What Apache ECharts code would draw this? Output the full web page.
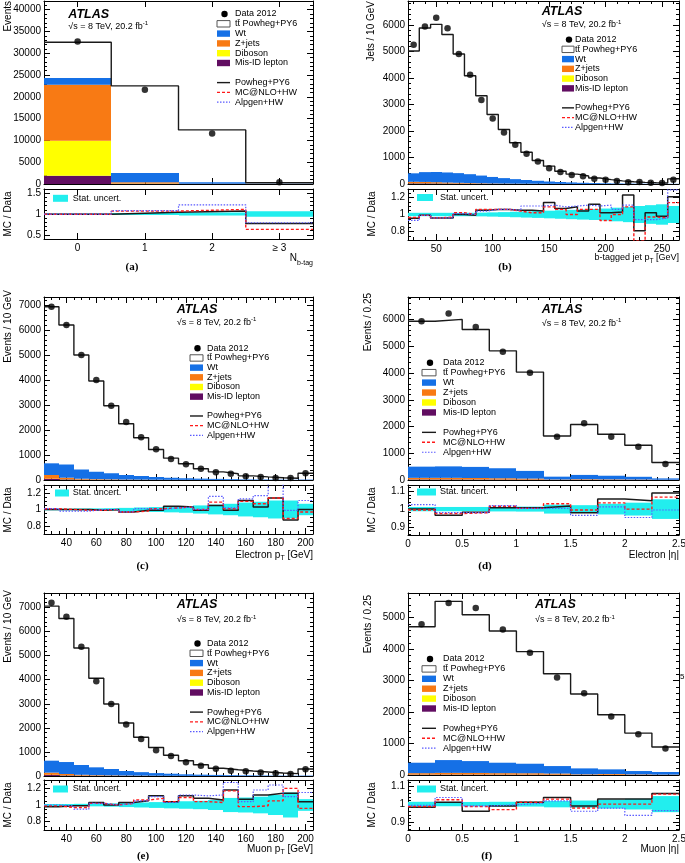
<!DOCTYPE html>
<html><head><meta charset="utf-8">
<script src="https://cdn.jsdelivr.net/npm/echarts@6.0.0/dist/echarts.min.js"></script>
<style>html,body{margin:0;padding:0;background:#fff;}#chart{width:685px;height:863px;}</style>
</head><body><div id="chart"></div>
<script>
// ---------- (a) N b-tag ----------
const aEdges = [-0.5, 0.5, 1.5, 2.5, 3.5];
const aData = [32700, 21650, 11600, 390];
const aPowheg = [0.995, 1.04, 1.07, 0.77];
const aNlo = [0.995, 1.07, 1.11, 0.63];
const aAlpgen = [0.995, 1.08, 1.22, 0.79];
const aStat = [0.01, 0.025, 0.035, 0.065];
const aWt = [1520, 2150, 380, 30];
const aZjets = [12850, 250, 30, 5];
const aDiboson = [8030, 80, 10, 2];
const aMisid = [1900, 60, 10, 2];
const aXTicks = [0, 1, 2, 3];
const aXLabels = ['0', '1', '2', '\u2265 3'];
const aYTicks = [0, 5000, 10000, 15000, 20000, 25000, 30000, 35000, 40000];
const aRTicks = [0.5, 1, 1.5];

// ---------- (b) b-tagged jet pT ----------
const bEdges = [25,35,45,55,65,75,85,95,105,115,125,135,145,155,165,175,185,195,205,215,225,235,245,255,265];
const bData = [5250,5940,6270,5870,4900,4120,3170,2470,1940,1480,1140,850,590,450,340,290,200,160,115,70,75,45,40,160];
const bPowheg = [0.955,0.99,0.96,0.96,1.0,0.99,1.05,1.06,1.06,1.05,1.05,1.04,1.14,1.07,1.09,1.04,1.12,1.02,1.03,1.23,0.81,1.02,0.98,1.21];
const bNlo = [0.965,0.99,0.96,0.97,1.02,1.0,1.06,1.06,1.06,1.04,1.02,1.02,1.09,1.06,1.0,1.06,1.06,0.93,1.0,1.09,0.69,0.97,0.96,1.14];
const bAlpgen = [0.93,0.99,0.96,0.96,1.01,1.0,1.04,1.06,1.06,1.05,1.1,1.1,1.11,1.09,1.1,1.11,1.1,1.11,1.06,1.11,0.94,0.94,0.96,1.29];
const bStat = [0.02,0.02,0.02,0.02,0.02,0.02,0.022,0.025,0.028,0.032,0.036,0.04,0.045,0.05,0.055,0.06,0.065,0.07,0.08,0.09,0.1,0.11,0.12,0.1];
const bWt = [320,370,385,380,365,335,290,245,205,170,140,112,88,70,55,42,33,26,19,14,11,9,7,6];
const bZjets = [50,45,38,30,24,18,14,10,8,6,5,4,3,2,2,1,1,1,1,1,1,1,1,1];
const bDiboson = [8,8,8,7,6,5,4,3,3,2,2,2,1,1,1,1,1,1,1,0,0,0,0,0];
const bMisid = [25,25,22,18,15,12,10,8,6,5,4,3,2,2,1,1,1,1,1,1,0,0,0,0];
const bXTicks = [50, 100, 150, 200, 250];
const bYTicks = [0, 1000, 2000, 3000, 4000, 5000, 6000];
const bRTicks = [0.8, 1, 1.2];

// ---------- (c) electron pT ----------
const cEdges = [25,35,45,55,65,75,85,95,105,115,125,135,145,155,165,175,185,195,205];
const cData = [6930,6200,5000,4000,2970,2320,1710,1230,840,630,455,310,255,150,120,80,80,270];
const cPowheg = [1.0,1.0,1.0,0.99,1.0,0.97,0.99,0.99,1.04,1.03,0.99,1.05,0.99,1.11,1.03,1.14,0.87,1.0];
const cNlo = [1.01,1.0,0.99,0.99,1.0,0.97,0.98,1.01,1.02,1.03,1.0,1.09,1.01,1.1,1.07,1.14,0.89,0.97];
const cAlpgen = [1.01,0.98,0.98,1.0,1.0,0.97,1.01,1.0,1.02,1.03,1.0,1.16,1.02,1.13,1.17,1.32,0.99,1.11];
const cStat = [0.01,0.01,0.012,0.014,0.016,0.02,0.025,0.03,0.035,0.04,0.05,0.06,0.07,0.085,0.095,0.11,0.11,0.07];
const cWt = [467,527,369,295,243,181,145,109,82,64,51,41,32,22,19,14,9,16];
const cZjets = [150,60,30,20,15,10,8,6,4,3,2,2,1,1,1,1,1,2];
const cDiboson = [10,8,6,5,4,3,3,2,2,1,1,1,1,1,0,0,0,1];
const cMisid = [40,25,15,10,8,6,4,3,2,2,1,1,1,1,0,0,0,1];
const cXTicks = [40,60,80,100,120,140,160,180,200];
const cYTicks = [0,1000,2000,3000,4000,5000,6000,7000];
const cRTicks = [0.8, 1, 1.2];

// ---------- (d) electron |eta| ----------
const dEdges = [0,0.25,0.5,0.75,1,1.25,1.5,1.75,2,2.25,2.5];
const dData = [5940,6230,5730,4800,4010,1620,2120,1620,1245,600];
const dPowheg = [1.0,0.965,0.983,1.007,1.007,1.017,0.98,1.056,1.047,1.09];
const dNlo = [0.995,0.975,0.98,1.016,1.004,1.03,0.995,1.035,1.0,1.067];
const dAlpgen = [1.025,0.98,0.98,1.02,1.004,1.004,0.965,1.013,0.953,0.995];
const dStat = [0.012,0.012,0.012,0.013,0.014,0.025,0.022,0.03,0.036,0.055];
const dWt = [419,429,416,374,287,105,160,135,101,50];
const dZjets = [55,55,50,45,35,12,18,15,10,5];
const dDiboson = [6,6,6,5,4,2,3,2,2,1];
const dMisid = [20,20,18,16,14,6,9,8,7,4];
const dXTicks = [0,0.5,1,1.5,2,2.5];
const dYTicks = [0,1000,2000,3000,4000,5000,6000];
const dRTicks = [0.9, 1, 1.1];

// ---------- (e) muon pT ----------
const eEdges = [25,35,45,55,65,75,85,95,105,115,125,135,145,155,165,175,185,195,205];
const eData = [7200,6610,5370,3940,2990,2140,1535,1065,830,570,430,305,220,195,150,110,85,280];
const ePowheg = [0.98,0.99,0.99,1.03,1.0,1.03,1.05,1.11,1.04,1.11,1.08,1.06,1.18,1.07,1.12,1.14,1.14,1.04];
const eNlo = [0.99,0.97,0.97,1.02,1.0,1.02,1.06,1.08,1.04,1.09,1.04,1.03,1.17,0.98,0.99,1.05,1.2,0.96];
const eAlpgen = [1.0,0.99,0.95,1.02,1.0,1.02,1.05,1.1,1.03,1.12,1.11,1.12,1.27,1.04,1.18,1.24,1.1,1.15];
const eStat = [0.012,0.012,0.014,0.016,0.02,0.025,0.03,0.035,0.04,0.045,0.05,0.06,0.085,0.09,0.1,0.12,0.15,0.07];
const eWt = [496,497,405,325,263,188,145,109,87,64,51,41,32,25,21,15,11,16];
const eZjets = [90,50,30,20,15,10,8,6,4,3,2,2,1,1,1,1,1,2];
const eDiboson = [10,8,6,5,4,3,3,2,2,1,1,1,1,1,0,0,0,1];
const eMisid = [40,25,15,10,8,6,4,3,2,2,1,1,1,1,0,0,0,1];
const eXTicks = [40,60,80,100,120,140,160,180,200];
const eYTicks = [0,1000,2000,3000,4000,5000,6000,7000];
const eRTicks = [0.8, 1, 1.2];

// ---------- (f) muon |eta| ----------
const fEdges = [0,0.25,0.5,0.75,1,1.25,1.5,1.75,2,2.25,2.5];
const fData = [4790,5460,5300,4620,3880,3100,2600,1860,1295,840];
const fPowheg = [0.983,1.01,0.96,0.99,1.01,1.037,0.99,1.028,1.028,1.06];
const fNlo = [0.987,1.024,0.987,0.969,1.01,1.028,0.978,1.0,1.0,1.056];
const fAlpgen = [0.993,1.037,0.99,0.996,1.005,1.018,0.96,0.978,0.937,0.963];
const fStat = [0.013,0.012,0.012,0.013,0.014,0.018,0.02,0.025,0.03,0.045];
const fWt = [331,407,377,331,302,238,187,147,106,83];
const fZjets = [45,50,48,45,42,35,15,25,15,8];
const fDiboson = [4,5,5,4,4,3,2,2,1,1];
const fMisid = [10,12,12,10,10,8,6,5,4,3];
const fXTicks = [0,0.5,1,1.5,2,2.5];
const fYTicks = [0,1000,2000,3000,4000,5000];
const fRTicks = [0.9, 1, 1.1];

const legendLabels = ['Data 2012', 'tt\u0304 Powheg+PY6', 'Wt', 'Z+jets', 'Diboson', 'Mis-ID lepton', 'Powheg+PY6', 'MC@NLO+HW', 'Alpgen+HW'];
const statLabel = 'Stat. uncert.';
const atlasLabel = 'ATLAS';

// ---------- styling ----------
const FONT = '"Liberation Sans", Arial, Helvetica, sans-serif';
const SERIF = '"Liberation Serif", "Times New Roman", serif';
const COL = {wt:'#1570e6', zjets:'#f87a14', diboson:'#ffff00', misid:'#610d61', stat:'#22eeee', mc:'#1a1a1a', nlo:'#ff1a1a', alp:'#5a5aff'};

function ticks(a, b, s) { const r = []; for (let i = 0; a + i * s <= b + 1e-9; i++) r.push(Math.round((a + i * s) * 1e6) / 1e6); return r; }

const opt = {animation:false, backgroundColor:'#fff', textStyle:{fontFamily:FONT}, grid:[], xAxis:[], yAxis:[], series:[], graphic:{elements:[]}};
const G = opt.graphic.elements;

function mkAxis(gi, min, max, pos, vals, len, line, lab) {
  return {type:'value', gridIndex:gi, min:min, max:max, position:pos,
    axisLine:{show:line, onZero:false, lineStyle:{color:'#000', width:1}},
    axisTick:{show: vals.length > 0, inside:true, length:len, customValues:vals, lineStyle:{color:'#000', width:1}},
    axisLabel: lab ? Object.assign({show:true, customValues:vals, color:'#000', fontSize:10, fontFamily:FONT}, lab) : {show:false},
    splitLine:{show:false}, minorTick:{show:false}, minorSplitLine:{show:false}, silent:true, axisPointer:{show:false}};
}
function addGrid(box, xr, yr, xMaj, xMin, yMaj, yMin, xLab, yLab) {
  const gi = opt.grid.length;
  opt.grid.push({left:box[0], top:box[1], width:box[2], height:box[3], containLabel:false, outerBoundsMode:'none', show:false});
  const xi = opt.xAxis.length, yi = opt.yAxis.length;
  opt.xAxis.push(mkAxis(gi, xr[0], xr[1], 'bottom', xMaj, 6, true, xLab));
  opt.xAxis.push(mkAxis(gi, xr[0], xr[1], 'bottom', xMin, 3, false, null));
  opt.xAxis.push(mkAxis(gi, xr[0], xr[1], 'top', xMaj, 6, true, null));
  opt.xAxis.push(mkAxis(gi, xr[0], xr[1], 'top', xMin, 3, false, null));
  opt.yAxis.push(mkAxis(gi, yr[0], yr[1], 'left', yMaj, 6, true, yLab));
  opt.yAxis.push(mkAxis(gi, yr[0], yr[1], 'left', yMin, 3, false, null));
  opt.yAxis.push(mkAxis(gi, yr[0], yr[1], 'right', yMaj, 6, true, null));
  opt.yAxis.push(mkAxis(gi, yr[0], yr[1], 'right', yMin, 3, false, null));
  return {xi:xi, yi:yi};
}
function rectSeries(ax, items, color) {
  return {type:'custom', xAxisIndex:ax.xi, yAxisIndex:ax.yi, data:items, encode:{x:[0,1], y:[2,3]}, clip:true, silent:true, z:2,
    renderItem: function (params, api) {
      const p0 = api.coord([api.value(0), api.value(3)]);
      const p1 = api.coord([api.value(1), api.value(2)]);
      const x0 = Math.round(p0[0]), x1 = Math.round(p1[0]);
      return {type:'rect', shape:{x:x0, y:p0[1], width:x1 - x0, height:p1[1] - p0[1]}, style:{fill:color}};
    }};
}
function stepSeries(ax, edges, vals, color, width, dash, z) {
  const d = vals.map((v, i) => [edges[i], v]);
  d.push([edges[edges.length - 1], vals[vals.length - 1]]);
  return {type:'line', xAxisIndex:ax.xi, yAxisIndex:ax.yi, data:d, step:'end', symbol:'none', showSymbol:false, silent:true, z:z || 3,
    lineStyle:{color:color, width:width, type:dash || 'solid'}, emphasis:{disabled:true}, clip:true};
}

const mctx = document.createElement('canvas').getContext('2d');
function fontStr(s) { return (s.italic ? 'italic ' : '') + (s.bold ? 'bold ' : '') + s.size + 'px ' + (s.family || FONT); }
function textEl(t, x, y, o) {
  o = o || {};
  return {type:'text', x:x, y:y, rotation:o.rot || 0, z:100, silent:true,
    style:{text:t, fill:o.fill || '#000', fontSize:o.size || 10, fontFamily:o.family || FONT, fontWeight:o.bold ? 'bold' : 'normal', fontStyle:o.italic ? 'italic' : 'normal',
      textAlign:o.align || 'left', textVerticalAlign:'middle', align:o.align || 'left', verticalAlign:'middle'}};
}
function segText(segs, x, y, align) {
  const w = segs.map(s => { mctx.font = fontStr(s); return mctx.measureText(s.t).width; });
  const tot = w.reduce((a, b) => a + b, 0);
  let cx = align === 'right' ? x - tot : x;
  segs.forEach((s, i) => { G.push(textEl(s.t, cx, y + (s.dy || 0), {size:s.size, bold:s.bold, italic:s.italic, family:s.family})); cx += w[i]; });
}

function buildPanel(P, L) {
  const xr = [P.edges[0], P.edges[P.edges.length - 1]];
  const yFmt = {margin:3, formatter: v => String(v)};
  const m = addGrid(L.mainBox, xr, [0, P.yMax], P.xTicks, P.xMinor, P.yTicks, P.yMinor, null, yFmt);
  const r = addGrid(L.ratioBox, xr, P.rRange, P.xTicks, P.xMinor, P.rTicks, P.rMinor, {margin:4, formatter:P.xFmt || (v => String(v))}, yFmt);
  const n = P.data.length;
  const cum = new Array(n).fill(0);
  [[P.misid, COL.misid], [P.diboson, COL.diboson], [P.zjets, COL.zjets], [P.wt, COL.wt]].forEach(([arr, col]) => {
    const items = arr.map((v, i) => [P.edges[i], P.edges[i + 1], cum[i], cum[i] + v]);
    arr.forEach((v, i) => { cum[i] += v; });
    opt.series.push(rectSeries(m, items, col));
  });
  const total = P.data.map((d, i) => d * P.powheg[i]);
  opt.series.push(stepSeries(m, P.edges, total, COL.mc, 1.4));
  opt.series.push({type:'scatter', xAxisIndex:m.xi, yAxisIndex:m.yi, silent:true, z:5, symbol:'circle', symbolSize:6.5,
    itemStyle:{color:'#000'}, data:P.data.map((d, i) => [(P.edges[i] + P.edges[i + 1]) / 2, d])});
  opt.series.push(rectSeries(r, P.stat.map((e, i) => [P.edges[i], P.edges[i + 1], 1 - e, 1 + e]), COL.stat));
  opt.series.push(stepSeries(r, P.edges, P.powheg, COL.mc, 1.5, null, 3));
  opt.series.push(stepSeries(r, P.edges, P.nlo, COL.nlo, 1.4, [3, 2], 4));
  opt.series.push(stepSeries(r, P.edges, P.alpgen, COL.alp, 1.2, [1.5, 1.5], 4));

  // texts
  G.push(textEl(atlasLabel, L.atlas[0], L.atlas[1], {size:12.5, bold:true, italic:true}));
  segText([{t:'\u221As = 8 TeV, 20.2 fb', size:9}, {t:'-1', size:6, dy:-3}], L.sqrts[0], L.sqrts[1], 'left');
  const lg = L.leg, row = i => lg.y0 + i * lg.dy;
  G.push({type:'circle', z:100, silent:true, shape:{cx:lg.boxX + lg.boxW / 2 + 1, cy:row(0), r:3.2}, style:{fill:'#000'}});
  const boxCols = [null, '#fff', COL.wt, COL.zjets, COL.diboson, COL.misid];
  for (let i = 1; i <= 5; i++) {
    G.push({type:'rect', z:100, silent:true, shape:{x:lg.boxX, y:row(i) - 3.2, width:lg.boxW, height:6.4},
      style:{fill:boxCols[i], stroke:i === 1 ? '#555' : null, lineWidth:1}});
  }
  const lineSty = [[COL.mc, 1.4, null], [COL.nlo, 1.4, [3, 2]], [COL.alp, 1.2, [1.5, 1.5]]];
  lineSty.forEach((s, k) => {
    const y = row(7 + k);
    G.push({type:'line', z:100, silent:true, shape:{x1:lg.boxX, y1:y, x2:lg.boxX + lg.boxW, y2:y}, style:{stroke:s[0], lineWidth:s[1], lineDash:s[2]}});
  });
  const rowIdx = [0, 1, 2, 3, 4, 5, 7, 8, 9];
  legendLabels.forEach((t, k) => G.push(textEl(t, lg.textX, row(rowIdx[k]), {size:9})));
  // ratio legend
  const sl = L.statLeg;
  G.push({type:'rect', z:100, silent:true, shape:{x:sl.x, y:sl.y - 3.5, width:sl.w, height:7}, style:{fill:COL.stat}});
  G.push(textEl(statLabel, sl.tx, sl.y, {size:9}));
  // axis titles
  G.push(textEl(L.yTitle[0], L.yTitle[1], L.yTitle[2], {size:10, rot:Math.PI / 2, align:'right'}));
  G.push(textEl('MC / Data', L.rTitle[0], L.rTitle[1], {size:10, rot:Math.PI / 2, align:'center'}));
  segText(L.xTitle, L.xTitlePos[0], L.xTitlePos[1], 'right');
  G.push(textEl(L.fig[0], L.fig[1], L.fig[2], {size:11, bold:true, family:SERIF, align:'center'}));
}

buildPanel({edges:aEdges, data:aData, powheg:aPowheg, nlo:aNlo, alpgen:aAlpgen, stat:aStat, wt:aWt, zjets:aZjets, diboson:aDiboson, misid:aMisid,
  yMax:42000, yTicks:aYTicks, yMinor:ticks(0, 42000, 1000), rRange:[0.4, 1.6], rTicks:aRTicks, rMinor:ticks(0.4, 1.6, 0.1),
  xTicks:aXTicks, xMinor:[], xFmt: v => aXLabels[aXTicks.indexOf(v)]},
  {mainBox:[44, 1, 269, 183], ratioBox:[44, 189, 269, 50], atlas:[68.3, 14.3], sqrts:[68.3, 26.7],
   leg:{boxX:217, boxW:13, textX:235, y0:14, dy:9.8}, statLeg:{x:53, y:198.3, w:15, tx:72.7},
   yTitle:['Events', 8, 1], rTitle:[8, 214], xTitle:[{t:'N', size:10}, {t:'b-tag', size:7, dy:5}], xTitlePos:[313, 258], fig:['(a)', 132, 267]});

buildPanel({edges:bEdges, data:bData, powheg:bPowheg, nlo:bNlo, alpgen:bAlpgen, stat:bStat, wt:bWt, zjets:bZjets, diboson:bDiboson, misid:bMisid,
  yMax:6900, yTicks:bYTicks, yMinor:ticks(0, 6800, 200), rRange:[0.7, 1.3], rTicks:bRTicks, rMinor:ticks(0.7, 1.3, 0.05),
  xTicks:bXTicks, xMinor:ticks(30, 260, 10)},
  {mainBox:[408, 1, 271, 183], ratioBox:[408, 189, 271, 51], atlas:[541.7, 11.7], sqrts:[541.7, 25],
   leg:{boxX:562, boxW:12, textX:575, y0:39.6, dy:9.75}, statLeg:{x:417, y:197.5, w:16, tx:440},
   yTitle:['Jets / 10 GeV', 371.7, 1], rTitle:[372, 214], xTitle:[{t:'b-tagged jet p', size:9}, {t:'T', size:6.5, dy:3}, {t:' [GeV]', size:9}], xTitlePos:[679, 258], fig:['(b)', 505, 267]});

buildPanel({edges:cEdges, data:cData, powheg:cPowheg, nlo:cNlo, alpgen:cAlpgen, stat:cStat, wt:cWt, zjets:cZjets, diboson:cDiboson, misid:cMisid,
  yMax:7320, yTicks:cYTicks, yMinor:ticks(0, 7200, 200), rRange:[0.7, 1.3], rTicks:cRTicks, rMinor:ticks(0.7, 1.3, 0.05),
  xTicks:cXTicks, xMinor:ticks(25, 205, 5)},
  {mainBox:[44, 297, 269, 183], ratioBox:[44, 485, 269, 49], atlas:[176.7, 309.3], sqrts:[176.7, 322.7],
   leg:{boxX:190, boxW:13, textX:207, y0:348.3, dy:9.67}, statLeg:{x:55, y:493, w:14, tx:72.7},
   yTitle:['Events / 10 GeV', 8.3, 290], rTitle:[8, 510], xTitle:[{t:'Electron p', size:10}, {t:'T', size:7, dy:3}, {t:' [GeV]', size:10}], xTitlePos:[313, 555], fig:['(c)', 142.5, 565.7]});

buildPanel({edges:dEdges, data:dData, powheg:dPowheg, nlo:dNlo, alpgen:dAlpgen, stat:dStat, wt:dWt, zjets:dZjets, diboson:dDiboson, misid:dMisid,
  yMax:6850, yTicks:dYTicks, yMinor:ticks(0, 6800, 200), rRange:[0.855, 1.135], rTicks:dRTicks, rMinor:ticks(0.86, 1.12, 0.02),
  xTicks:dXTicks, xMinor:ticks(0, 2.5, 0.1)},
  {mainBox:[408, 297, 271, 183], ratioBox:[408, 485, 271, 50], atlas:[541.7, 310], sqrts:[541.7, 323.3],
   leg:{boxX:422, boxW:14, textX:443, y0:362.7, dy:9.95}, statLeg:{x:417, y:492, w:19, tx:440},
   yTitle:['Events / 0.25', 368.3, 293], rTitle:[372, 510], xTitle:[{t:'Electron |\u03B7|', size:10}], xTitlePos:[679, 555], fig:['(d)', 485, 565.7]});

buildPanel({edges:eEdges, data:eData, powheg:ePowheg, nlo:eNlo, alpgen:eAlpgen, stat:eStat, wt:eWt, zjets:eZjets, diboson:eDiboson, misid:eMisid,
  yMax:7600, yTicks:eYTicks, yMinor:ticks(0, 7600, 200), rRange:[0.7, 1.3], rTicks:eRTicks, rMinor:ticks(0.7, 1.3, 0.05),
  xTicks:eXTicks, xMinor:ticks(25, 205, 5)},
  {mainBox:[44, 593, 269, 183], ratioBox:[44, 780, 269, 50], atlas:[176.7, 605], sqrts:[176.7, 620],
   leg:{boxX:190, boxW:13, textX:207, y0:643.5, dy:9.8}, statLeg:{x:53, y:789, w:15, tx:72.7},
   yTitle:['Events / 10 GeV', 8, 590], rTitle:[8, 805], xTitle:[{t:'Muon p', size:10}, {t:'T', size:7, dy:3}, {t:' [GeV]', size:10}], xTitlePos:[313, 849], fig:['(e)', 143, 856]});

buildPanel({edges:fEdges, data:fData, powheg:fPowheg, nlo:fNlo, alpgen:fAlpgen, stat:fStat, wt:fWt, zjets:fZjets, diboson:fDiboson, misid:fMisid,
  yMax:5780, yTicks:fYTicks, yMinor:ticks(0, 5600, 200), rRange:[0.855, 1.135], rTicks:fRTicks, rMinor:ticks(0.86, 1.12, 0.02),
  xTicks:fXTicks, xMinor:ticks(0, 2.5, 0.1)},
  {mainBox:[408, 593, 271, 182], ratioBox:[408, 780, 271, 50], atlas:[535, 605], sqrts:[535, 620],
   leg:{boxX:422, boxW:14, textX:443, y0:659, dy:9.9}, statLeg:{x:417, y:789, w:19, tx:440},
   yTitle:['Events / 0.25', 368, 595], rTitle:[372, 805], xTitle:[{t:'Muon |\u03B7|', size:10}], xTitlePos:[679, 849], fig:['(f)', 486.7, 856]});

G.push(textEl('5', 680, 677, {size:8}));

const chart = echarts.init(document.getElementById('chart'), null, {renderer:'canvas'});
chart.setOption(opt);
</script></body></html>
